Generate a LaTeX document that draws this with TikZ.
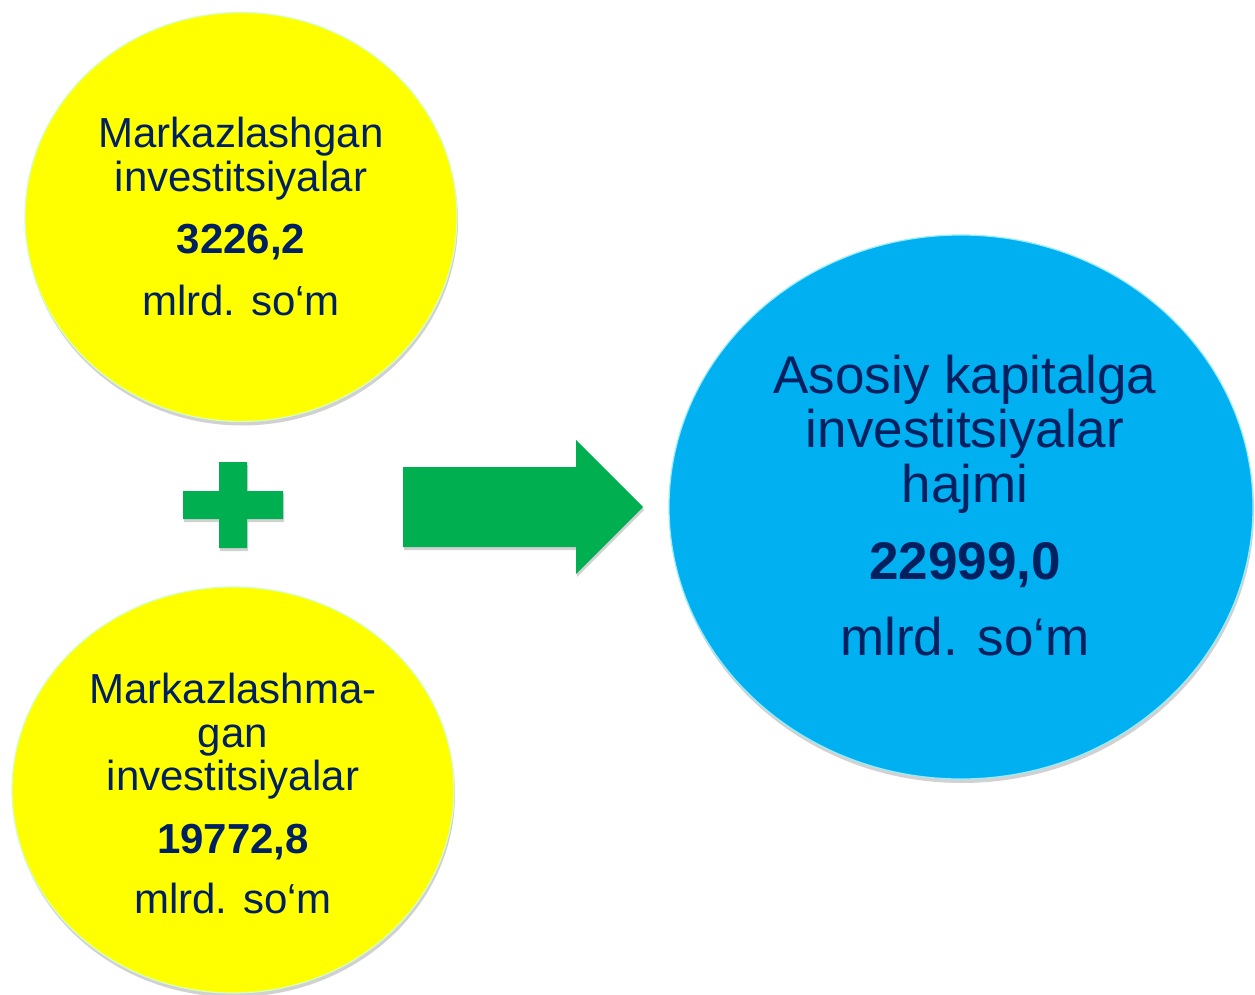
\documentclass[tikz,border=0pt]{standalone}
\usepackage{fontspec}
\setmainfont{Liberation Sans}
\usetikzlibrary{shapes,shadows,positioning}

\definecolor{navy}{HTML}{002060}
\definecolor{sariq}{HTML}{FFFF00}
\definecolor{kok}{HTML}{00B0F0}
\definecolor{yashil}{HTML}{00B050}

\tikzset{
  bubble/.style={ellipse, inner sep=0pt, fill=#1, draw=#1!60!cyan!40!white, line width=1.2pt,
    drop shadow={shadow xshift=1pt, shadow yshift=-4pt, opacity=0.3, fill=black!60}},
  txt/.style={anchor=base, inner sep=0pt, text=navy, font=\fontsize{42}{44}\selectfont},
  numtxt/.style={txt, font=\fontsize{42}{44}\selectfont\bfseries},
  bigtxt/.style={txt, font=\fontsize{53}{55}\selectfont},
  bignum/.style={txt, font=\fontsize{53}{55}\selectfont\bfseries},
  greenshape/.style={fill=yashil, drop shadow={shadow xshift=1pt, shadow yshift=-3pt, opacity=0.3, fill=black!60}}
}

\begin{document}
\begin{tikzpicture}[x=1pt,y=-1pt]
    \useasboundingbox (0,0) rectangle (1255,995);

    % the three bubbles
    \node[bubble=sariq, minimum width=432pt, minimum height=409pt] (markaz) at (241,217) {};
    \node[bubble=sariq, minimum width=442pt, minimum height=406pt] (nomarkaz) at (233,790) {};
    \node[bubble=kok, minimum width=584pt, minimum height=544pt] (jami) at (961,507) {};

    % texts, one line each
    \node[txt] (mk1) at (241,148) {Markazlashgan};
    \node[txt] (mk2) at (241,192) {investitsiyalar};
    \node[numtxt] (mk3) at (241,253) {3226,2};
    \node[txt] (mk4) at (241,315) {mlrd. so‘m};

    \node[txt] (nm1) at (233,703) {Markazlashma-};
    \node[txt] (nm2) at (233,747) {gan};
    \node[txt] (nm3) at (233,790) {investitsiyalar};
    \node[numtxt] (nm4) at (233,853) {19772,8};
    \node[txt] (nm5) at (233,913) {mlrd. so‘m};

    \node[bigtxt] (jm1) at (965,393) {Asosiy kapitalga};
    \node[bigtxt] (jm2) at (965,447) {investitsiyalar};
    \node[bigtxt] (jm3) at (965,502) {hajmi};
    \node[bignum] (jm4) at (965,579) {22999,0};
    \node[bigtxt] (jm5) at (965,655) {mlrd. so‘m};

    % plus sign
    \path[greenshape] (183,491) -- (219,491) -- (219,462) -- (247,462) -- (247,491) -- (283,491)
        -- (283,519) -- (247,519) -- (247,548) -- (219,548) -- (219,519) -- (183,519) -- cycle;

    % big arrow
    \path[greenshape] (403,467) -- (576,467) -- (576,440) -- (643,507) -- (576,574)
        -- (576,547) -- (403,547) -- cycle;
\end{tikzpicture}
\end{document}
